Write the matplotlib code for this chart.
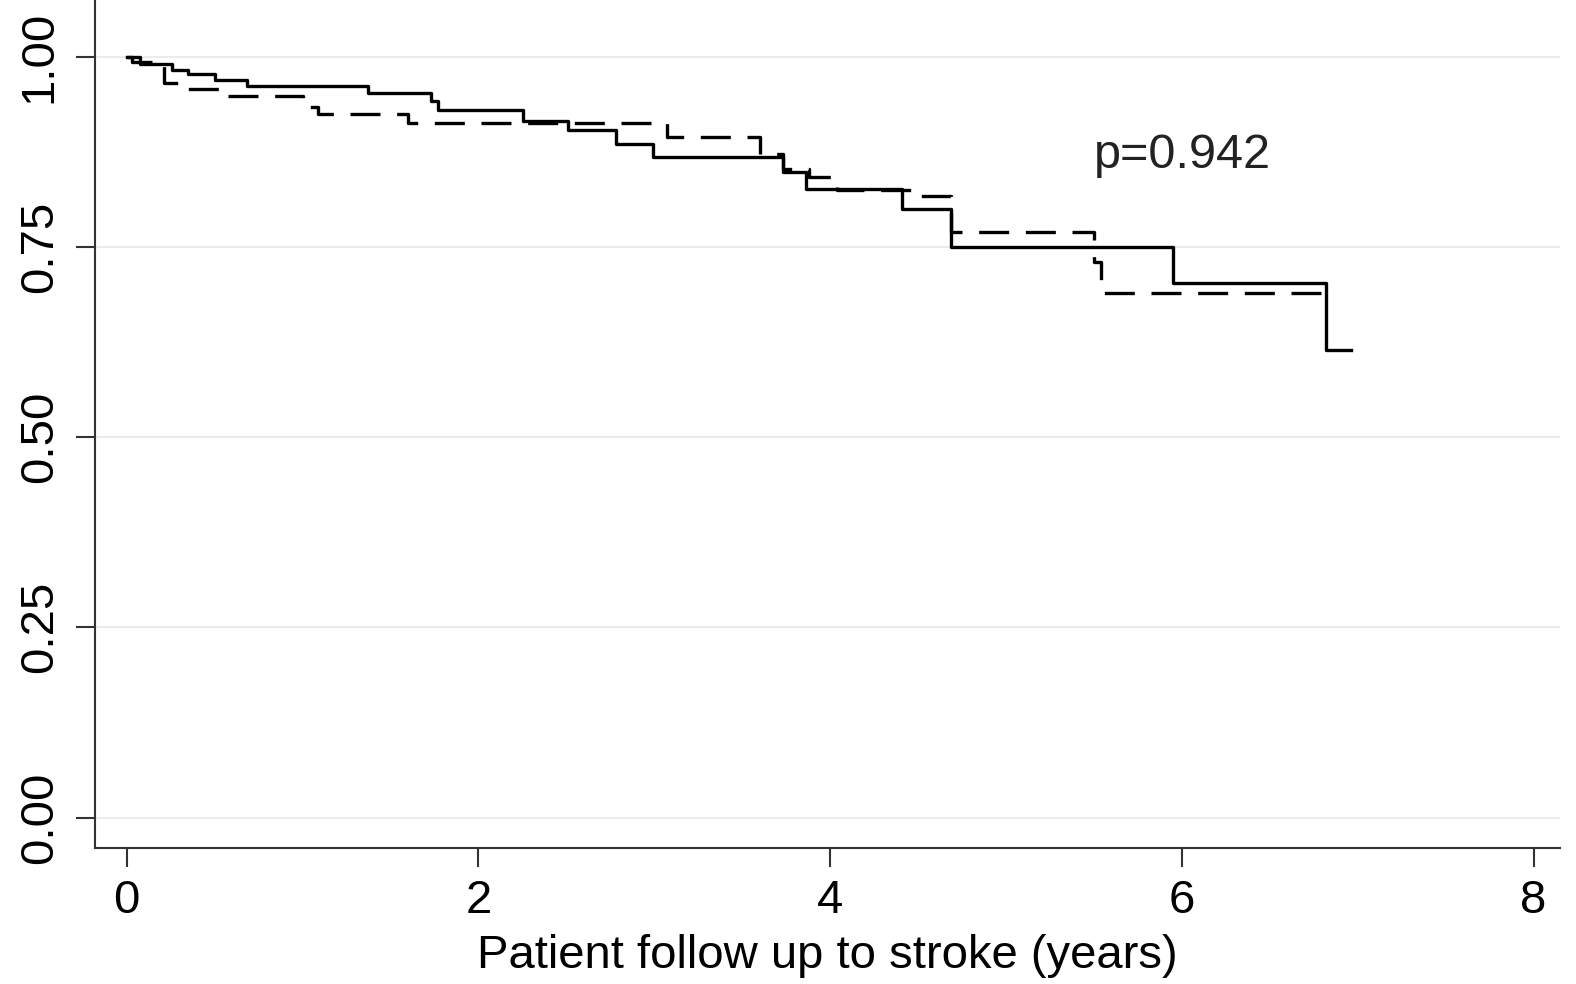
import matplotlib
matplotlib.use("Agg")
import matplotlib.pyplot as plt

plt.rcParams["font.family"] = ["Liberation Sans", "DejaVu Sans"]

# Kaplan-Meier estimates
tempo_solido = [0, 0.076, 0.26, 0.35, 0.50, 0.685, 1.37, 1.73, 1.77, 2.255, 2.51, 2.78, 2.99, 3.73, 3.86, 4.41, 4.69, 5.95, 6.82, 6.96]
surv_solido = [1.0, 0.99, 0.983, 0.977, 0.97, 0.962, 0.952, 0.942, 0.930, 0.916, 0.903, 0.885, 0.868, 0.849, 0.826, 0.80, 0.75, 0.702, 0.615, 0.615]

tempo_trac = [0, 0.03, 0.21, 0.33, 0.55, 1.00, 1.09, 1.60, 3.07, 3.60, 3.73, 3.88, 4.04, 4.47, 4.69, 5.50, 5.54, 6.86]
surv_trac = [1.0, 0.993, 0.966, 0.957, 0.948, 0.934, 0.925, 0.913, 0.895, 0.872, 0.852, 0.842, 0.825, 0.817, 0.77, 0.73, 0.69, 0.69]

yticks = [0.0, 0.25, 0.5, 0.75, 1.0]
ytick_labels = ["0.00", "0.25", "0.50", "0.75", "1.00"]
xticks = [0, 2, 4, 6, 8]

fig = plt.figure(figsize=(15.76, 9.84), dpi=100)
ax = fig.add_axes([95 / 1576, 1 - 848 / 984, (1560 - 95) / 1576, 848 / 984])

for y in yticks:
    ax.axhline(y, color="#ebebeb", lw=1.5, zorder=0)

ax.step(tempo_trac, surv_trac, where="post", color="black", lw=2.4, dashes=(9, 5))
ax.step(tempo_solido, surv_solido, where="post", color="black", lw=2.4)

ax.text(5.5, 0.87, "p=0.942", fontsize=35, va="center", ha="left", color="#222222")

ax.set_xlim(-0.18, 8.15)
ax.set_ylim(-0.04, 1.0745)
ax.set_xticks(xticks)
ax.set_yticks(yticks)
ax.set_yticklabels(ytick_labels, rotation=90, va="center")
ax.tick_params(axis="both", labelsize=34, length=14, width=1.5, color="#333333", pad=8)
ax.tick_params(axis="y", pad=10)
ax.set_xlabel("Patient follow up to stroke (years)", fontsize=34, labelpad=8)

for s in ["top", "right"]:
    ax.spines[s].set_visible(False)
for s in ["left", "bottom"]:
    ax.spines[s].set_linewidth(1.5)
    ax.spines[s].set_color("#333333")

fig.savefig("out.png", dpi=100)
